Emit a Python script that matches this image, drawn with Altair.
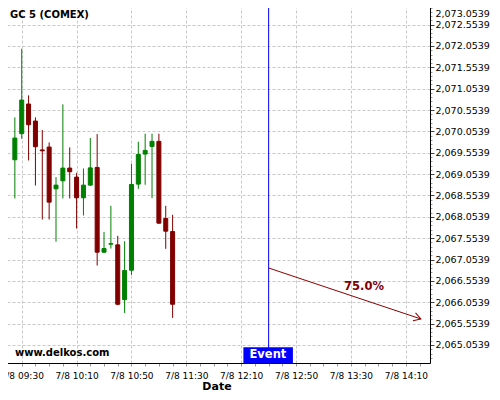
import altair as alt
import pandas as pd

# ---- data ----
times = ["09:25", "09:30", "09:35", "09:40", "09:45", "09:50", "09:55", "10:00",
         "10:05", "10:10", "10:15", "10:20", "10:25", "10:30", "10:35", "10:40",
         "10:45", "10:50", "10:55", "11:00", "11:05", "11:10", "11:15", "11:20"]
opens = [2069.390, 2070.000, 2070.695, 2070.296, 2069.620, 2069.687, 2068.710, 2068.898,
         2069.195, 2068.984, 2068.499, 2068.796, 2069.210, 2067.226, 2067.414, 2067.398,
         2066.116, 2066.804, 2068.820, 2069.523, 2069.702, 2069.820, 2068.015, 2067.710]
highs = [2070.382, 2071.991, 2070.898, 2070.382, 2070.085, 2069.796, 2068.984, 2070.687,
         2069.679, 2069.085, 2069.187, 2069.900, 2069.991, 2067.702, 2068.312, 2067.609,
         2067.484, 2069.296, 2069.812, 2069.999, 2069.999, 2069.999, 2068.312, 2068.101]
lows = [2068.484, 2069.882, 2069.374, 2068.788, 2067.991, 2067.991, 2067.472, 2068.484,
        2068.484, 2067.781, 2068.085, 2068.780, 2066.913, 2067.210, 2067.312, 2065.984,
        2065.804, 2066.695, 2068.710, 2068.804, 2068.491, 2067.890, 2067.304, 2065.687]
closes = [2069.898, 2070.788, 2070.210, 2069.695, 2069.600, 2068.398, 2068.796, 2069.195,
          2069.109, 2068.499, 2068.796, 2069.200, 2067.226, 2067.312, 2067.425, 2066.007,
          2066.796, 2068.812, 2069.515, 2069.609, 2069.820, 2067.906, 2067.718, 2066.007]

event_time = "12:30"
arrow_start = ("12:30", 2066.856)
arrow_end = ("14:21", 2065.663)
prob_label = "75.0%"
prob_pos = ("13:39.5", 2066.418)

# axis ticks: minutes after midnight (labels every 40 min, ticks every 10 min)
x_first_label = 570   # 7/8 09:30
x_label_step = 40
x_tick_step = 10
x_last_tick = 860
# price axis: labels every 0.5, ticks every 0.1
y_label_base = 2065.0539
y_label_step = 0.5
y_tick_step = 0.1


def mins(s):
    h, m = s.split(":")
    return int(h) * 60 + float(m)


GREEN = "#008000"
RED = "#800000"
FONT = "DejaVu Sans"
GRID = "#c8c8c8"

df = pd.DataFrame({
    "t": [mins(s) for s in times],
    "open": opens, "high": highs, "low": lows, "close": closes,
})
df["dir"] = ["up" if c >= o else "down" for o, c in zip(opens, closes)]

x_dom = [560, 864]
y_dom = [2064.632, 2073.130]
xs = alt.Scale(domain=x_dom, nice=False, zero=False)
ys = alt.Scale(domain=y_dom, nice=False, zero=False)
dir_scale = alt.Scale(domain=["up", "down"], range=[GREEN, RED])
color = alt.Color("dir:N", scale=dir_scale, legend=None)

x_vals = list(range(x_first_label, x_last_tick + 1, x_tick_step))
y_vals = [round(y_label_base + y_tick_step * k, 4) for k in range(-3, 81)]
y_vals = [v for v in y_vals if y_dom[0] <= v <= y_dom[1]]

major_x = f"(datum.value - {x_first_label}) % {x_label_step} == 0"
q = f"((datum.value - {y_label_base}) / {y_label_step})"
major_y = f"abs({q} - round({q})) < 0.01"

x_axis = alt.Axis(
    values=x_vals, tickCount=1000,
    labelExpr=(f"{major_x} ? '7/8 ' + (floor(datum.value/60) < 10 ? '0' : '') + floor(datum.value/60)"
               " + ':' + (datum.value % 60 < 10 ? '0' : '') + (datum.value % 60) : ''"),
    labelFlush=False, labelOverlap=False, labelFontSize=9, labelColor="black",
    labelPadding=5, tickSize=3, tickColor="#999999", domainColor="black",
    gridColor=GRID, gridDash=[3, 2],
    gridOpacity={"condition": {"test": major_x, "value": 1}, "value": 0},
    title="Date", titleFontSize=11, titleFontWeight="bold", titlePadding=0, titleColor="black",
)
y_axis = alt.Axis(
    orient="right", values=y_vals, tickCount=1000,
    labelExpr=f"{major_y} ? format(datum.value, ',.4f') : ''",
    labelFlush=False, labelOverlap=False, labelFontSize=9.5, labelColor="black",
    labelPadding=1,
    labelOffset={"condition": {"test": "datum.value > 2073", "value": 10}, "value": 0},
    tickSize={"condition": {"test": major_y, "value": 4}, "value": 2},
    tickColor={"condition": {"test": major_y, "value": "#444444"}, "value": "#999999"},
    domainColor="black",
    gridColor=GRID, gridDash=[3, 2],
    gridOpacity={"condition": {"test": major_y, "value": 1}, "value": 0},
    title=None,
)

base = alt.Chart(df)
wicks = base.mark_rule(strokeWidth=1).encode(
    x=alt.X("t:Q", scale=xs, axis=x_axis),
    y=alt.Y("low:Q", scale=ys, axis=y_axis),
    y2="high:Q",
    color=color,
)
bodies = base.mark_bar(width=4, strokeWidth=1).encode(
    x=alt.X("t:Q", scale=xs),
    y=alt.Y("open:Q", scale=ys),
    y2="close:Q",
    color=color,
    stroke=alt.Stroke("dir:N", scale=dir_scale, legend=None),
)

ev = pd.DataFrame({"t": [mins(event_time)]})
event_line = alt.Chart(ev).mark_rule(color="#0000ff", strokeWidth=1).encode(
    x=alt.X("t:Q", scale=xs))

ev_box = pd.DataFrame({"t": [mins(event_time) - 18.4], "t2": [mins(event_time) + 17.7],
                       "low": [y_dom[0]], "high": [2065.000]})
event_box = alt.Chart(ev_box).mark_rect(color="#0000ff").encode(
    x=alt.X("t:Q", scale=xs), x2="t2:Q",
    y=alt.Y("low:Q", scale=ys), y2="high:Q")

ev_txt = pd.DataFrame({"t": [mins(event_time) - 0.5], "v": [2064.808], "label": ["Event"]})
event_text = alt.Chart(ev_txt).mark_text(
    color="white", font=FONT, fontSize=11.5, fontWeight="bold", baseline="middle", align="center"
).encode(x=alt.X("t:Q", scale=xs), y=alt.Y("v:Q", scale=ys), text="label:N")

arr = pd.DataFrame({"t": [mins(arrow_start[0])], "v": [arrow_start[1]],
                    "t2": [mins(arrow_end[0])], "v2": [arrow_end[1]]})
arrow_line = alt.Chart(arr).mark_rule(color="#8b0000", strokeWidth=1).encode(
    x=alt.X("t:Q", scale=xs), y=alt.Y("v:Q", scale=ys), x2="t2:Q", y2="v2:Q")

arr_head = pd.DataFrame({"t": [mins(arrow_end[0])], "v": [arrow_end[1]]})
arrow_head = alt.Chart(arr_head).mark_point(
    shape="M-1,-0.6L0,0L-1,0.6", filled=False, stroke="#8b0000", strokeWidth=1,
    size=196, angle=18, opacity=1
).encode(x=alt.X("t:Q", scale=xs), y=alt.Y("v:Q", scale=ys))

pl = pd.DataFrame({"t": [mins(prob_pos[0])], "v": [prob_pos[1]], "label": [prob_label]})
prob_text = alt.Chart(pl).mark_text(
    color="#800000", font=FONT, fontSize=11.5, fontWeight="bold", baseline="middle", align="center"
).encode(x=alt.X("t:Q", scale=xs), y=alt.Y("v:Q", scale=ys), text="label:N")

title_text = alt.Chart(pd.DataFrame({"label": ["GC 5 (COMEX)"]})).mark_text(
    font=FONT, fontSize=10, fontWeight="bold", color="black", align="left", baseline="middle"
).encode(x=alt.value(7), y=alt.value(15), text="label:N")

site_text = alt.Chart(pd.DataFrame({"label": ["www.delkos.com"]})).mark_text(
    font=FONT, fontSize=10, fontWeight="bold", color="black", align="left", baseline="middle"
).encode(x=alt.value(12), y=alt.value(353), text="label:N")

chart = alt.layer(
    wicks, bodies, event_line, event_box, event_text, arrow_line, arrow_head, prob_text,
    title_text, site_text
).properties(
    width=427, height=363,
    padding={"left": -5, "top": -8, "right": 62, "bottom": 28},
    autosize=alt.AutoSizeParams(type="none"),
    background="white",
).configure_view(strokeWidth=0).configure_axis(
    labelFont=FONT, titleFont=FONT
)

chart.save("out.html", embed_options={"renderer": "svg", "actions": False})
